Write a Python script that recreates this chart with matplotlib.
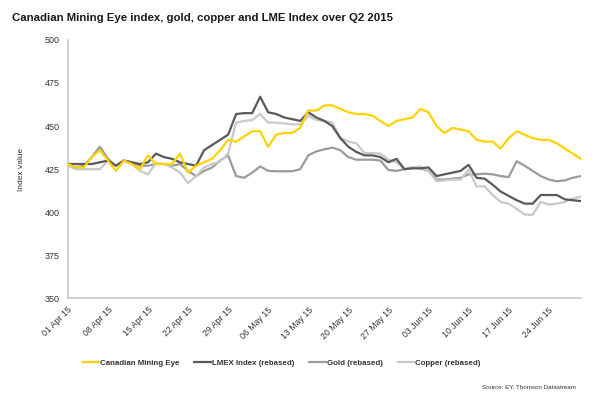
import matplotlib
matplotlib.use("Agg")
import matplotlib.pyplot as plt
import numpy as np
import pandas as pd

# business days, 01 Apr - 30 Jun 2015
dates = pd.bdate_range("2015-04-01", "2015-06-30")

mining_eye = [428, 426, 426, 432, 436, 430, 424, 430, 428, 425,
              433, 428, 428, 428, 434, 423, 427, 429, 431, 436,
              442, 441, 444, 447, 447, 438, 445, 446, 446, 449,
              459, 459, 462, 462, 460, 458, 457, 457, 456, 453,
              450, 453, 454, 455, 460, 458, 450, 446, 449, 448,
              447, 442, 441, 441, 437, 443, 447, 445, 443, 442,
              442, 440, 437, 434, 431]
lmex = [428, 428, 428, 428, 429, 430, 427, 430, 429, 428,
        429, 434, 432, 431, 429, 428, 427, 436, 439, 442,
        445, 457, 457.5, 457.5, 467, 458, 457, 455, 454, 453,
        458, 455, 453, 450, 443, 438, 435, 433, 433, 432,
        429, 431, 425, 425.5, 425.5, 426, 421, 422, 423, 424,
        427.5, 420, 419.5, 416, 412, 409.5, 407, 405, 405, 410,
        410, 410, 407.5, 407, 406.5]
gold = [428, 426, 427, 432, 438, 431, 427, 430, 429, 427,
        427, 428, 428, 427, 428, 424, 421, 424, 426, 430,
        433, 421, 420, 423, 426.6, 424, 423.8, 423.8, 423.8, 425,
        433, 435.3, 436.5, 437.5, 436, 432, 430.5, 430.5, 430.5, 430,
        424.5, 424, 425, 426, 425.5, 424, 419, 419, 419.5, 420,
        422, 422, 422.4, 422, 421, 420.4, 429.6, 427, 424, 421,
        419, 418, 418.5, 420, 421]
copper = [427, 425, 425, 425, 425, 430, 427, 430, 428, 424,
          422, 428.6, 428, 426, 423, 417, 421, 426, 428, 429.5,
          434, 452, 453, 453.5, 457, 452, 452, 451.5, 451, 451,
          456, 453.5, 453, 452, 443, 441, 440, 434.4, 434.4, 434,
          430.5, 429, 425, 425.5, 426.6, 424, 418, 418.5, 419, 419,
          424.7, 415, 415, 410, 406, 405, 402, 398.7, 398.5, 406,
          404.5, 405, 406, 408, 409]

series = ["Canadian Mining Eye", "LMEX Index (rebased)", "Gold (rebased)", "Copper (rebased)"]
colors = ["#FFD200", "#5A5A5C", "#9B9B9B", "#C9C9C9"]
y_ticks = [350, 375, 400, 425, 450, 475, 500]

plt.rcParams['font.family'] = ['Liberation Sans', 'DejaVu Sans']

fig = plt.figure(figsize=(6, 3.99), dpi=100)
ax = fig.add_axes([0.113, 0.252, 0.855, 0.648])

x = np.arange(len(dates))
# darker lines sit on top of the lighter ones
for vals, name, col, z in zip([mining_eye, lmex, gold, copper], series, colors, [5, 4, 2, 3]):
    ax.plot(x, vals, color=col, lw=1.6, label=name, zorder=z)

ax.set_xlim(0, len(dates) - 1)
ax.set_ylim(350, 500)
ax.set_yticks(y_ticks)
tick_pos = x[::5][:13]
ax.set_xticks(tick_pos)
ax.set_xticklabels([dates[i].strftime("%d %b %y") for i in tick_pos],
                   rotation=45, ha="right", rotation_mode="anchor", fontsize=6.3, color="#333333")
ax.tick_params(axis="y", labelsize=6.5, colors="#333333", length=0, pad=6)
ax.tick_params(axis="x", length=0, pad=5)
for s in ["top", "right"]:
    ax.spines[s].set_visible(False)
for s in ["left", "bottom"]:
    ax.spines[s].set_color("#C8C8C8")
    ax.spines[s].set_linewidth(1.2)
ax.set_ylabel("Index value", fontsize=6, color="#333333", labelpad=14)

fig.text(0.02, 0.955, "Canadian Mining Eye index, gold, copper and LME Index over Q2 2015",
         fontsize=8.2, fontweight="bold", color="#1a1a1a", va="center")

handles, labels = ax.get_legend_handles_labels()
leg = fig.legend(handles, labels, loc="center", bbox_to_anchor=(0.469, 0.09), ncol=4,
                 frameon=False, fontsize=5.7, handlelength=2.1, handletextpad=0.1,
                 columnspacing=1.9)
for t in leg.get_texts():
    t.set_fontweight("bold")
    t.set_color("#333333")

fig.text(0.96, 0.03, "Source: EY, Thomson Datastream", fontsize=4.5, color="#333333",
         ha="right", va="center")

fig.savefig("out.png", dpi=100)
